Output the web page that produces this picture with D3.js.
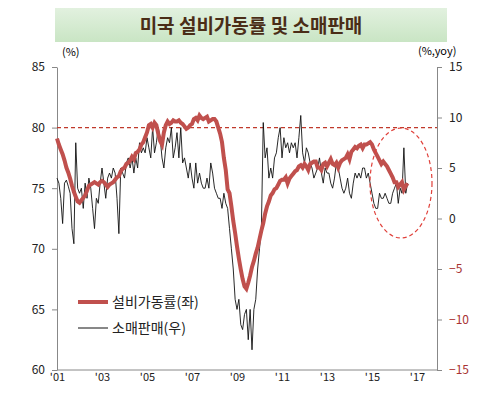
<!DOCTYPE html><html><head><meta charset="utf-8">
<script src="https://cdn.jsdelivr.net/npm/d3@7"></script>
<style>body{margin:0;background:#fff}text{font-family:"Noto Sans CJK KR","Noto Sans",sans-serif}</style>
</head><body><svg id="c" width="500" height="412"></svg>
<script>
const startYear = 2001;
const capacity = [
79.1,78.6,78.2,77.8,77.3,76.7,76.3,75.8,75.2,74.7,74.3,73.9,
73.8,74,74.2,74.4,74.8,75.2,75.3,75.4,75.5,75.4,75.3,75.5,
75.6,75.5,75.3,75.1,75.3,75.4,75.5,75.7,75.9,76,76.4,76.6,
76.7,77,77.1,77.3,77.6,77.4,77.9,78,78.2,78.6,78.8,79.2,
79.6,80.2,80.3,80,80.4,80.2,79.5,78.9,78.6,79.6,80.2,80.5,
80.3,80.4,80.6,80.5,80.5,80.6,80.4,80.3,80.1,79.9,80,80.2,
80.3,80.7,80.8,80.6,81,80.8,80.7,80.8,80.9,80.5,80.6,80.7,
80.7,80.5,80,79.5,78.8,77.5,76.5,74.9,74.6,73.5,72.3,71.3,
70.2,69.2,68.3,67.5,66.9,66.7,67.2,67.8,68.5,69,69.6,70.1,
70.8,71.5,72.1,72.9,73.5,73.9,74.4,74.6,74.9,75,75.3,75.6,
75.7,75.7,75.9,75.4,75.8,76,76.2,76.4,76.5,76.8,76.9,76.7,
77,76.8,76.5,77,77.1,77.2,77.2,76.7,76.7,76.5,77,77.1,
76.8,77.1,77.4,77,76.9,77.1,76.7,77.1,77.3,77.4,77.5,77.8,
77.4,78,78.2,78.4,78.3,78.5,78.6,78.3,78.6,78.6,78.7,78.8,
78.6,78.2,77.9,77.6,77.3,77,77.2,77,76.8,76.5,76.2,75.9,
75.5,75.5,75.1,75.3,75.5,74.9,75.2,75.4];
const retail = [
4,3.5,2,-0.5,3.5,3.8,3.2,2.5,-1,-2.5,7.5,3,
2.5,3,1,3.5,2,4,3,1,-1,2,1.5,3.5,
5,3.5,2,4,4.5,4,5,4.5,2,-1.5,5,4.5,
4,5.5,6,5,6,4.5,6,5,7.5,6.5,7,6.5,
8,7,6,9,6.5,7.5,9,8,6,5,7,8,
7.5,9,6,7,8.5,6,9,5.5,6,5,4,5.5,
4,3,5.5,3.5,4.5,3.5,3,3,4,3,5.5,4.5,
3,2.5,2,2,1,2.5,1.5,1,-1,-3,-5,-8,
-9,-8,-10.5,-11,-9.5,-9,-12,-9,-13,-9,-8,-5,
-3,-1,9.5,6,7,4,5,4,6,6.5,8,9,
6,8,7,7.5,6.5,7.5,7,7.5,6,8,10.2,6.5,
5.5,7,6.5,5.5,5,4,4.5,5,6,4.5,3.5,5,
4.5,4.5,3.5,3,4,5.5,5,4,3,2.5,3,4,
2.5,2,3.5,4.5,4,4.5,4,5,5,4,4.5,3.5,
2.5,1.5,1,1,2.5,2,2,2.5,2,1.5,1.5,2.5,
3,3.5,1.5,3,2.5,7,2.5,3.5];
const leftTicks=[60,65,70,75,80,85];
const rightTicks=[-15,-10,-5,0,5,10,15];
const xTickYears=[2001,2003,2005,2007,2009,2011,2013,2015,2017];
const title="미국 설비가동률 및 소매판매";
const legendLabels=["설비가동률(좌)","소매판매(우)"];

const svg=d3.select("#c");
const toT=i=>startYear+i/12;
const x=d3.scaleLinear().domain([2001,2017]).range([57,417]);
const yL=d3.scaleLinear().domain([60,85]).range([370,67]);
const yR=d3.scaleLinear().domain([-15,15]).range([370,67]);
const defs=svg.append("defs");
const g=defs.append("linearGradient").attr("id","tg").attr("x1",0).attr("x2",0).attr("y1",0).attr("y2",1);
g.append("stop").attr("offset",0).attr("stop-color","#e2f1df");
g.append("stop").attr("offset",1).attr("stop-color","#c9e5c4");
svg.append("rect").attr("x",55).attr("y",8).attr("width",392).attr("height",34).attr("fill","url(#tg)");
svg.append("text").attr("x",251).attr("y",33).attr("text-anchor","middle").attr("font-size",19).attr("font-weight","bold").attr("fill","#4a2d17").text(title);

svg.append("g").attr("transform","translate(57,0)").call(d3.axisLeft(yL).tickValues(leftTicks).tickSize(5).tickSizeOuter(0))
 .call(a=>{a.select(".domain").attr("stroke","#888");a.selectAll("line").attr("stroke","#888");a.selectAll("text").attr("font-size",12).attr("fill","#222").attr("dx",-4);});
svg.append("g").attr("transform","translate(437,0)").call(d3.axisRight(yR).tickValues(rightTicks).tickSize(5).tickSizeOuter(0))
 .call(a=>{a.select(".domain").attr("stroke","#888");a.selectAll("line").attr("stroke","#888");a.selectAll("text").attr("font-size",12).attr("dx",4).attr("fill",d=>d<0?"#a83232":"#222");});
svg.append("g").attr("transform","translate(0,370)").call(d3.axisBottom(x).tickValues(xTickYears).tickSize(0).tickSizeOuter(0).tickFormat(d=>"'"+String(d).slice(2)))
 .call(a=>{a.select(".domain").attr("stroke","#888").attr("d","M57,0H437");a.selectAll("text").attr("font-size",11).attr("fill","#222").attr("dy",8);});
svg.append("text").attr("x",62).attr("y",56).attr("font-size",11).text("(%)");
svg.append("text").attr("x",418).attr("y",55).attr("font-size",11).text("(%,yoy)");

svg.append("line").attr("x1",57).attr("x2",437).attr("y1",yL(80)).attr("y2",yL(80)).attr("stroke","#c0392b").attr("stroke-width",1.2).attr("stroke-dasharray","4,3");

svg.append("path").datum(retail).attr("fill","none").attr("stroke","#111").attr("stroke-width",0.9)
 .attr("d",d3.line().x((d,i)=>x(toT(i))).y(d=>yR(d)));
svg.append("path").datum(capacity).attr("fill","none").attr("stroke","#c0504d").attr("stroke-width",4)
 .attr("d",d3.line().x((d,i)=>x(toT(i))).y(d=>yL(d)));

svg.append("ellipse").attr("cx",401).attr("cy",183).attr("rx",31).attr("ry",55).attr("fill","none").attr("stroke","#e0403a").attr("stroke-width",1.2).attr("stroke-dasharray","4,3");

svg.append("line").attr("x1",78).attr("x2",108).attr("y1",302).attr("y2",302).attr("stroke","#c0504d").attr("stroke-width",4);
svg.append("text").attr("x",112).attr("y",307).attr("font-size",14).attr("fill","#222").text(legendLabels[0]);
svg.append("line").attr("x1",78).attr("x2",108).attr("y1",328).attr("y2",328).attr("stroke","#111").attr("stroke-width",1);
svg.append("text").attr("x",112).attr("y",333).attr("font-size",14).attr("fill","#222").text(legendLabels[1]);
</script></body></html>
